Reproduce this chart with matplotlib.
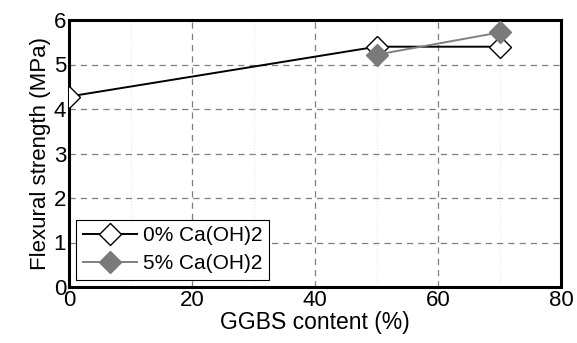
import numpy as np
import matplotlib.pyplot as plt
from matplotlib.ticker import MultipleLocator

plt.rcParams['font.family'] = ['Liberation Sans', 'DejaVu Sans']

# data
ggbs_0 = [0, 50, 70]
strength_0 = [4.28, 5.40, 5.40]
ggbs_5 = [50, 70]
strength_5 = [5.22, 5.72]
labels = ['0% Ca(OH)2', '5% Ca(OH)2']


def main():
    fig = plt.figure(figsize=(5.77, 3.43), dpi=100)
    ax = fig.add_axes([69 / 577, 1 - 287 / 343, (561 - 69) / 577, (287 - 20) / 343])

    ax.plot(ggbs_0, strength_0, color='black', linewidth=1.4, marker='D',
            markersize=11, markerfacecolor='white', markeredgecolor='black',
            markeredgewidth=1.0, label=labels[0], zorder=3)
    ax.plot(ggbs_5, strength_5, color='#808080', linewidth=1.4, marker='D',
            markersize=11, markerfacecolor='#7a7a7a', markeredgecolor='#7a7a7a',
            label=labels[1], clip_on=False, zorder=4)

    ax.set_xlim(0, 80)
    ax.set_ylim(0, 6)
    ax.xaxis.set_major_locator(MultipleLocator(20))
    ax.xaxis.set_minor_locator(MultipleLocator(10))
    ax.yaxis.set_major_locator(MultipleLocator(1))

    ax.grid(which='major', color='#7f7f7f', linestyle=(0, (5, 4)), linewidth=0.9)
    ax.grid(which='minor', axis='x', color='#e6e6e6', linestyle=':', linewidth=0.8)
    ax.set_axisbelow(True)

    for sp in ax.spines.values():
        sp.set_linewidth(2.2)
    ax.tick_params(which='both', length=0, labelsize=16, pad=2)

    ax.set_xlabel('GGBS content (%)', fontsize=16.5, labelpad=0)
    ax.set_ylabel('Flexural strength (MPa)', fontsize=16, labelpad=2)

    leg = ax.legend(loc='lower left', fontsize=15, frameon=True, fancybox=False,
                    edgecolor='black', framealpha=1, borderaxespad=0.35,
                    handlelength=2.6, handletextpad=0.3, labelspacing=0.45,
                    borderpad=0.3)
    leg.get_frame().set_linewidth(0.8)

    fig.savefig('out.png', dpi=100)


if __name__ == '__main__':
    main()
